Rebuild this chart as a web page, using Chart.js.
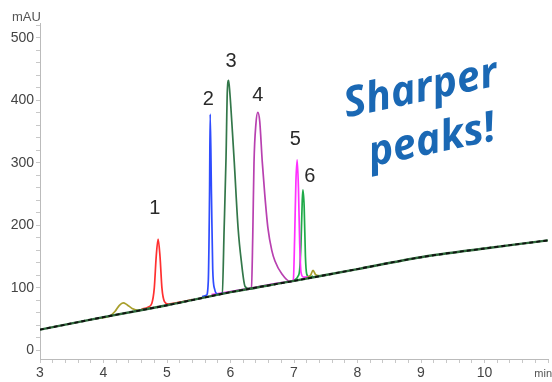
<!DOCTYPE html>
<html>
<head>
<meta charset="utf-8">
<script src="https://cdn.jsdelivr.net/npm/chart.js@4"></script>
<style>
  html, body { margin: 0; padding: 0; background: #fff; }
  #wrap { width: 552px; height: 382px; position: relative; }
</style>
</head>
<body>
<div id="wrap"><canvas id="chart"></canvas></div>
<script>
// data (time in min, signal in mAU)
const baseTime = [3, 4, 5, 6, 7, 8, 9, 10, 11];
const baseVal = [33, 53, 72, 93, 111, 130, 149, 163, 176];

const olive1Time = [3.9, 4.1, 4.18, 4.25, 4.31, 4.37, 4.45, 4.55, 4.65, 4.75];
const olive1Val = [51, 55, 62, 72, 76, 73, 67, 64, 66, 68];
const olive2Time = [7.2, 7.26, 7.3, 7.34, 7.4];
const olive2Val = [116, 120, 128, 121, 119];

const peak1Time = [4.6, 4.7, 4.76, 4.8, 4.83, 4.86, 4.89, 4.92, 4.96, 5.02, 5.2, 5.4];
const peak1Val = [66, 69, 75, 100, 150, 178, 150, 100, 78, 74, 77, 81];

const peak2Time = [5.55, 5.62, 5.65, 5.67, 5.68, 5.7, 5.72, 5.75, 5.8, 5.9];
const peak2Val = [86, 88, 110, 250, 378, 250, 130, 98, 90, 91];

const peak3Time = [5.8, 5.87, 5.9, 5.93, 5.95, 5.97, 5.99, 6.03, 6.06, 6.12, 6.17, 6.23, 6.3, 6.4];
const peak3Val = [89, 91, 195, 310, 415, 432, 412, 350, 300, 195, 143, 102, 98, 100];

const peak4Time = [6.25, 6.33, 6.35, 6.37, 6.4, 6.43, 6.46, 6.5, 6.54, 6.59, 6.65, 6.7, 6.81, 6.94, 7.0];
const peak4Val = [97, 99, 180, 300, 362, 381, 367, 302, 249, 195, 160, 143, 122, 110, 111];

const peak5Time = [5.7, 6.3, 6.95, 6.99, 7.01, 7.03, 7.05, 7.07, 7.09, 7.11, 7.15, 7.25];
const peak5Val = [89, 99, 110, 113, 180, 270, 305, 260, 170, 125, 117, 118];

const peak6Time = [7.0, 7.06, 7.09, 7.11, 7.13, 7.14, 7.16, 7.18, 7.2, 7.24, 7.3];
const peak6Val = [112, 118, 130, 170, 240, 257, 230, 150, 122, 117, 119];

const peakLabels = ["1", "2", "3", "4", "5", "6"];
const peakLabelTime = [4.81, 5.65, 6.01, 6.43, 7.02, 7.25];
const peakLabelVal = [227, 402, 463, 408, 337, 278];

const noteLines = ["Sharper", "peaks!"];

const pts = (xs, ys) => xs.map((x, i) => ({ x: x, y: ys[i] }));

const line = (xs, ys, color, extra) => Object.assign({
  data: pts(xs, ys),
  borderColor: color,
  borderWidth: 1.7,
  pointRadius: 0,
  fill: false,
  cubicInterpolationMode: "monotone",
}, extra || {});

const tickFont = { family: "'Liberation Sans', Arial, sans-serif", size: 14 };

// labels, axis titles and the blue note
const annotate = {
  id: "annotate",
  afterDraw(chart) {
    const { ctx, scales: { x, y } } = chart;
    ctx.save();
    ctx.fillStyle = "#2a2a2a";
    ctx.font = "20px 'Liberation Sans', Arial, sans-serif";
    ctx.textAlign = "center";
    ctx.textBaseline = "middle";
    peakLabels.forEach((lab, i) => {
      ctx.fillText(lab, x.getPixelForValue(peakLabelTime[i]), y.getPixelForValue(peakLabelVal[i]));
    });

    ctx.fillStyle = "#555";
    ctx.font = "13px " + tickFont.family;
    ctx.textAlign = "left";
    ctx.fillText("mAU", 12, 17);
    ctx.font = "11px " + tickFont.family;
    ctx.textAlign = "right";
    ctx.fillText("min", 552, 374);

    ctx.fillStyle = "#1a68b4";
    ctx.font = "italic bold 42px 'Open Sans', 'DejaVu Sans', sans-serif";
    ctx.textAlign = "center";
    ctx.translate(426, 114);
    ctx.rotate(-12 * Math.PI / 180);
    ctx.fillText(noteLines[0], 0, -25);
    ctx.fillText(noteLines[1], 0, 28);
    ctx.restore();
  },
};

new Chart(document.getElementById("chart"), {
  type: "line",
  data: {
    datasets: [
      line(baseTime, baseVal, "#111", { borderDash: [4, 3], borderWidth: 1.9, cubicInterpolationMode: "default", tension: 0.3 }),
      line(baseTime, baseVal, "#2f6b3c", { borderWidth: 2.4, cubicInterpolationMode: "default", tension: 0.3 }),
      line(olive1Time, olive1Val, "#a89f2c"),
      line(olive2Time, olive2Val, "#a89f2c"),
      line(peak1Time, peak1Val, "#ff3030"),
      line(peak2Time, peak2Val, "#2f4cff"),
      line(peak3Time, peak3Val, "#33774a"),
      line(peak4Time, peak4Val, "#b840b0"),
      line(peak5Time, peak5Val, "#ff30ff"),
      line(peak6Time, peak6Val, "#1faa48"),
    ],
  },
  options: {
    responsive: true,
    maintainAspectRatio: false,
    animation: false,
    layout: { padding: { top: 23, right: 4, left: 0, bottom: 0 } },
    plugins: { legend: { display: false }, tooltip: { enabled: false } },
    scales: {
      x: {
        type: "linear",
        min: 3,
        max: 11,
        afterFit: (s) => { s.height = 23; },
        grid: { drawOnChartArea: false, tickLength: 4, color: "#c8c8c8" },
        border: { color: "#bbb" },
        ticks: {
          stepSize: 0.2,
          autoSkip: false,
          maxRotation: 0,
          padding: 2,
          color: "#444",
          font: tickFont,
          callback: (v) => (Math.abs(v - Math.round(v)) < 1e-6 && v < 10.5 ? String(Math.round(v)) : ""),
        },
      },
      y: {
        min: -14,
        max: 524,
        afterFit: (s) => { s.width = 40; },
        afterBuildTicks: (s) => { s.ticks = s.ticks.filter((t) => t.value % 20 === 0); },
        grid: { drawOnChartArea: false, tickLength: 4, color: "#c8c8c8" },
        border: { color: "#bbb" },
        ticks: {
          stepSize: 20,
          includeBounds: false,
          autoSkip: false,
          padding: 2,
          color: "#444",
          font: tickFont,
          callback: (v) => (v % 100 === 0 ? String(v) : ""),
        },
      },
    },
  },
  plugins: [annotate],
});
</script>
</body>
</html>
